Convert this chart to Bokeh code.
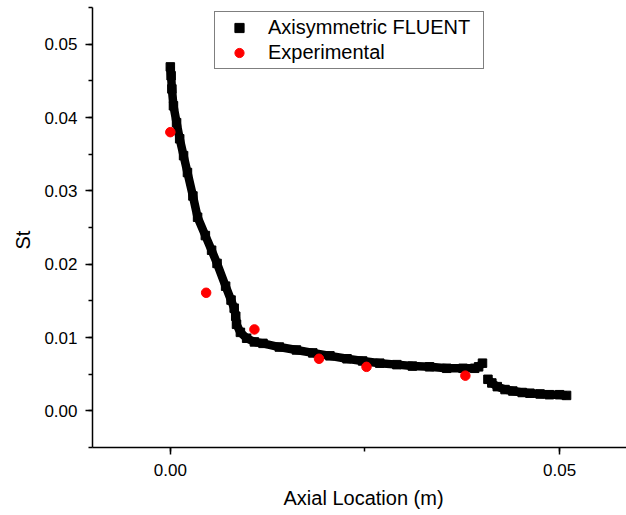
from bokeh.plotting import figure
from bokeh.models import (SingleIntervalTicker, NumeralTickFormatter, Title,
                          Legend, LegendItem)
from bokeh.embed import file_html
from bokeh.resources import INLINE

# Axisymmetric FLUENT prediction (two branches, split at the step near 0.04 m)
fluent_x_1 = [0.0000, 0.0001, 0.0002, 0.0004, 0.0008, 0.0012, 0.0017, 0.0022,
              0.0029, 0.0035, 0.0045, 0.0053, 0.0060, 0.0071, 0.0078, 0.0082,
              0.0084, 0.0085, 0.0090, 0.0098, 0.0108, 0.0119, 0.0140, 0.0162,
              0.0183, 0.0205, 0.0227, 0.0247, 0.0269, 0.0291, 0.0311, 0.0333,
              0.0355, 0.0376, 0.0391, 0.0396, 0.0401]
fluent_y_1 = [0.0469, 0.0457, 0.0439, 0.0416, 0.0393, 0.0371, 0.0348, 0.0325,
              0.0293, 0.0264, 0.0239, 0.0219, 0.0201, 0.0170, 0.0151, 0.0140,
              0.0129, 0.0118, 0.0107, 0.0099, 0.0094, 0.0092, 0.0087, 0.0083,
              0.0079, 0.0075, 0.0071, 0.0068, 0.0065, 0.0063, 0.0061, 0.0060,
              0.0058, 0.0058, 0.0058, 0.0060, 0.0065]
fluent_x_2 = [0.0408, 0.0413, 0.0420, 0.0430, 0.0440, 0.0452, 0.0462, 0.0475,
              0.0487, 0.0500, 0.0509]
fluent_y_2 = [0.0043, 0.0038, 0.0033, 0.0029, 0.0027, 0.0025, 0.0024, 0.0023,
              0.0022, 0.0022, 0.0021]

# Measured Stanton numbers
exp_x = [0.0000, 0.0046, 0.0108, 0.0191, 0.0252, 0.0379]
exp_y = [0.0380, 0.0161, 0.0111, 0.0071, 0.0060, 0.0048]

FONT = "Liberation Sans"

p = figure(width=626, height=515, output_backend="svg", toolbar_location=None,
           x_range=(-0.01, 0.0586), y_range=(-0.005, 0.055),
           min_border_left=92, min_border_right=0, min_border_top=7,
           min_border_bottom=68, background_fill_color="white",
           border_fill_color="white")
p.xgrid.visible = False
p.ygrid.visible = False
p.outline_line_color = None

# thick band joining the simulation points
p.line(fluent_x_1, fluent_y_1, line_width=8.5, color="black")
p.line(fluent_x_2, fluent_y_2, line_width=8.5, color="black")
sq = p.scatter(fluent_x_1 + fluent_x_2, fluent_y_1 + fluent_y_2,
               marker="square", size=8.5, color="black")
ex = p.scatter(exp_x, exp_y, marker="circle", size=9.5, color="#ff0000")

# axes
p.xaxis.ticker = SingleIntervalTicker(interval=0.05, num_minor_ticks=2)
p.yaxis.ticker = SingleIntervalTicker(interval=0.01, num_minor_ticks=2)
for ax in (p.xaxis, p.yaxis):
    ax.formatter = NumeralTickFormatter(format="0.00")
    ax.axis_line_color = "black"
    ax.axis_line_width = 1.5
    ax.major_tick_line_color = "black"
    ax.major_tick_line_width = 1.5
    ax.minor_tick_line_color = "black"
    ax.minor_tick_line_width = 1.5
    ax.major_tick_in = 0
    ax.major_tick_out = 7
    ax.minor_tick_in = 0
    ax.minor_tick_out = 4
    ax.major_label_text_font = FONT
    ax.major_label_text_font_size = "17px"
    ax.major_label_text_color = "black"
p.yaxis.major_label_standoff = 8
p.xaxis.major_label_standoff = 9

# axis titles, offset along their axes
p.add_layout(Title(text="Axial Location (m)", align="left", offset=191,
                   text_font=FONT, text_font_size="20px",
                   text_font_style="normal", text_color="black",
                   standoff=12), "below")
p.add_layout(Title(text="St", align="left", offset=198,
                   text_font=FONT, text_font_size="20px",
                   text_font_style="normal", text_color="black",
                   standoff=15), "left")

legend = Legend(items=[LegendItem(label="Axisymmetric FLUENT", renderers=[sq]),
                       LegendItem(label="Experimental", renderers=[ex])],
                location=(122, 378), padding=4, spacing=2,
                glyph_width=40, glyph_height=23, label_height=23,
                label_width=211, label_standoff=9,
                label_text_font=FONT, label_text_font_size="20px",
                label_text_color="black",
                border_line_color="black", border_line_width=1,
                background_fill_color="white", background_fill_alpha=1.0)
p.add_layout(legend)

open("out.html", "w").write(file_html(p, INLINE))
